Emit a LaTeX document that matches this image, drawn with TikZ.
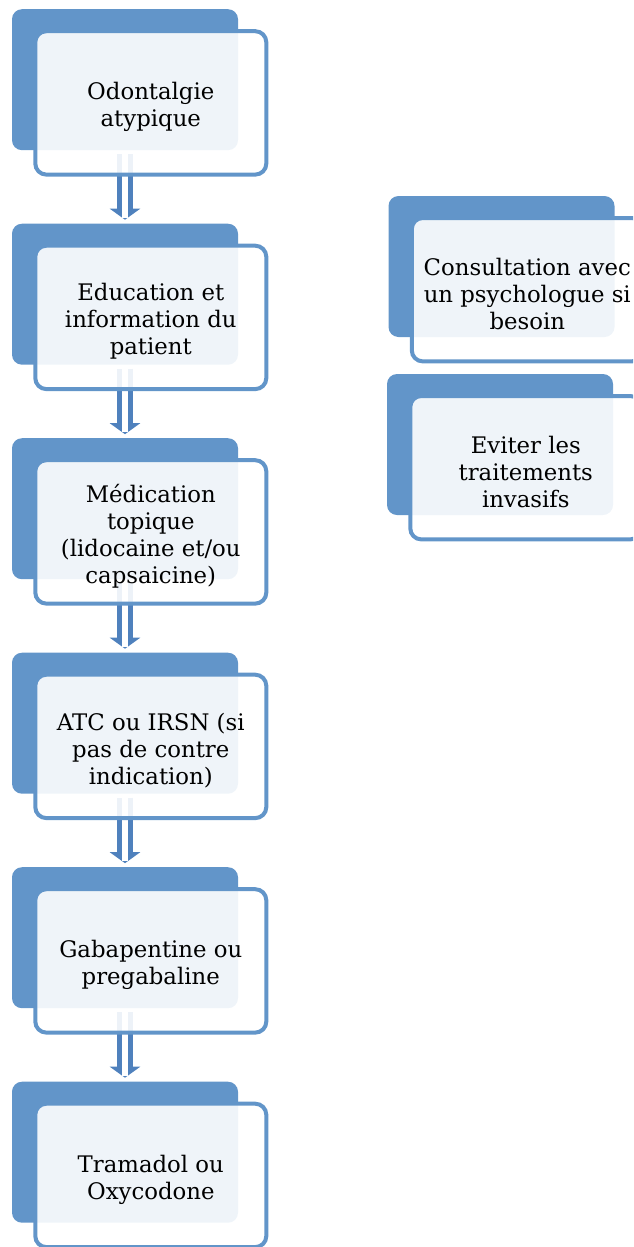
\documentclass[tikz,border=0pt]{standalone}
\usepackage{fontspec}
\setmainfont{DejaVu Serif}
\usepackage{tikz}
\usetikzlibrary{arrows.meta,chains,positioning}
\definecolor{boxblue}{RGB}{98,149,201}
\definecolor{arrowblue}{RGB}{79,129,189}

\begin{document}
\begin{tikzpicture}[x=1pt, y=-1pt,
node distance=73.5pt,
 start chain = B going below,
    back/.style = {rectangle, rounded corners=10pt, fill=boxblue,% dark card behind
                minimum width=226pt, minimum height=141pt,
                inner sep=0pt, outer sep=0pt},
    front/.style = {rectangle, rounded corners=11pt, draw=boxblue, line width=4pt,% light card
                fill=white, fill opacity=0.9,
                minimum width=231pt, minimum height=143.4pt,
                inner sep=0pt, outer sep=0pt},
    txt/.style = {align=center, yshift=-4pt,% text of a card
                font=\fontsize{22.8pt}{27pt}\selectfont},
    pipe/.style = {arrowblue, line width=16pt, -{Triangle[width=30pt,length=11pt]},
                shorten <=4pt, shorten >=4pt},
    core/.style = {white, line width=6pt, shorten <=4pt, shorten >=6pt},
                        ]
\useasboundingbox (0,0) rectangle (633,1247);
\clip (0,0) rectangle (633,1247);
% left column: back cards
\node[back, on chain] at (125,79.7) {};
\foreach \i in {2,...,6}
    \node[back, on chain] {};
% arrows between the cards
\foreach \i/\j in {1/2,2/3,3/4,4/5,5/6}
{
    \draw[pipe] (B-\i) -- (B-\j);
    \draw[core] (B-\i) -- (B-\j);
}
% front cards with the text
\foreach \txt [count=\i] in {{Odontalgie\\atypique},% <-- content of nodes
                            {Education et\\information du\\patient},
                            {Médication\\topique\\(lidocaine et/ou\\capsaicine)},
                            {ATC ou IRSN (si\\pas de contre\\indication)},
                            {Gabapentine ou\\pregabaline},
                            {Tramadol ou\\Oxycodone}}
{
    \node[front, below right=22pt and 23.3pt of B-\i.north west] (F-\i) {};
    \node[txt] at (F-\i) {\txt};
}
% right column
\node[back] (R-1) at (501.5,266.5) {};
\node[back] (R-2) at (500,444.5) {};
\node[front, below right=22pt and 23.3pt of R-1.north west] (G-1) {};
\node[txt] at (G-1) {Consultation avec\\un psychologue si\\besoin};
\node[front, below right=22pt and 23.3pt of R-2.north west] (G-2) {};
\node[txt] at (G-2) {Eviter les\\traitements\\invasifs};
\end{tikzpicture}
\end{document}
